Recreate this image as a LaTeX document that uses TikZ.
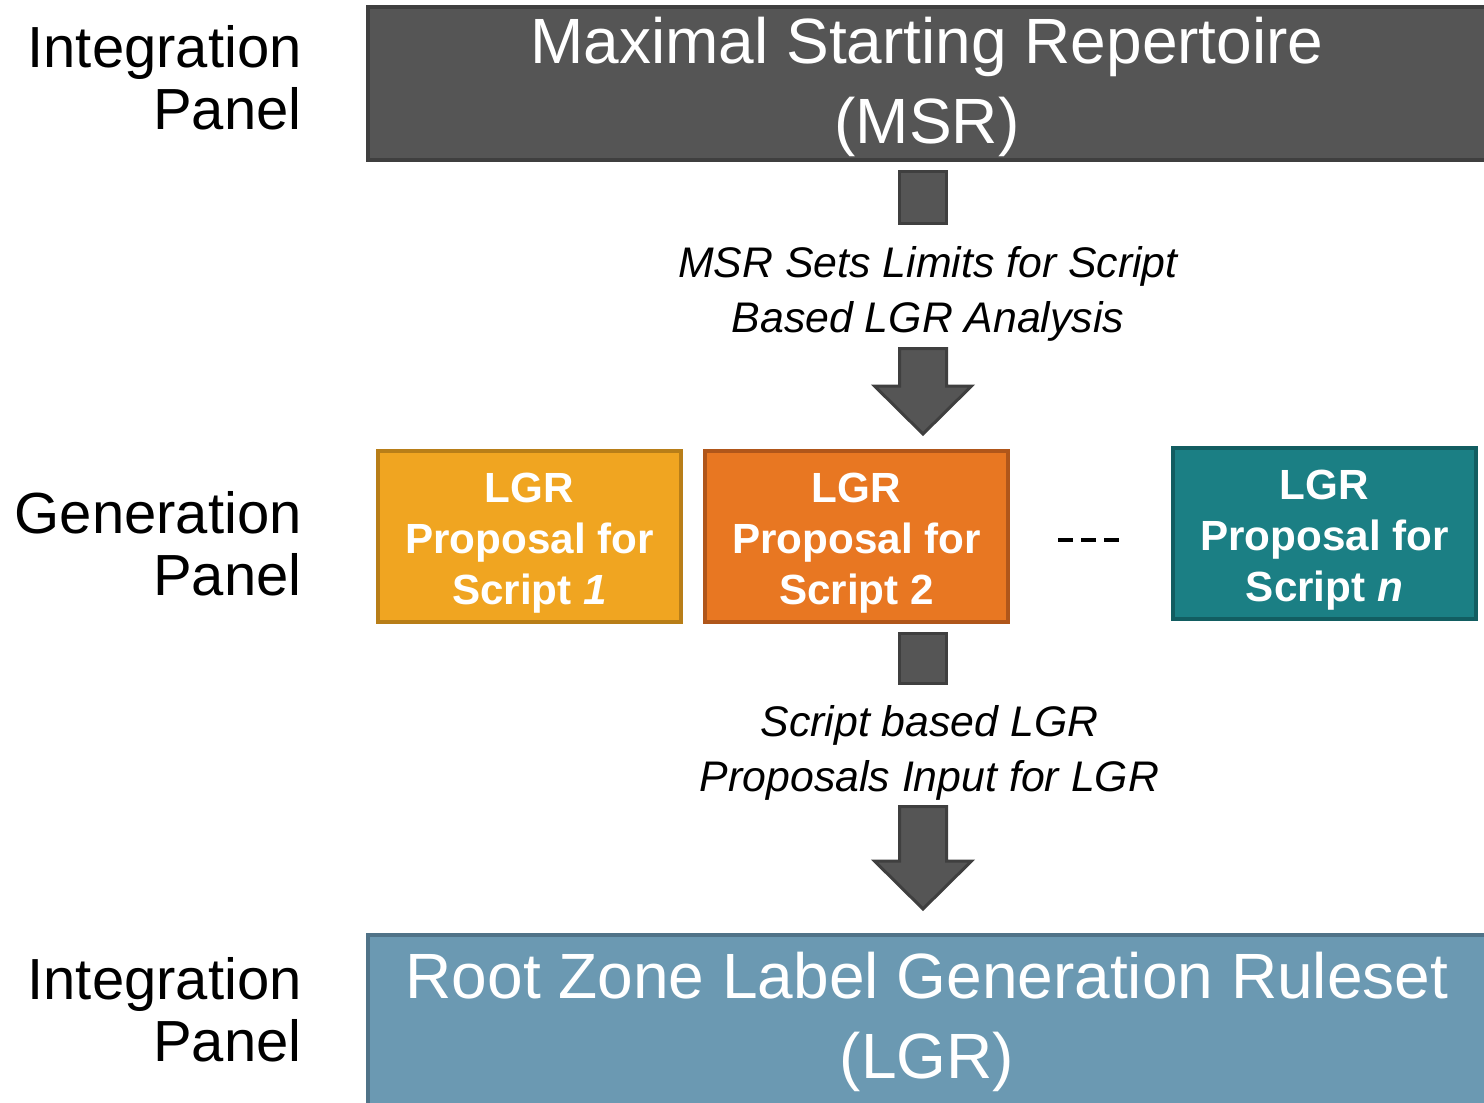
\documentclass[tikz,border=0pt]{standalone}
\usepackage{fontspec}
\setmainfont{Liberation Sans}
\definecolor{msr fill}{HTML}{555555}
\definecolor{msr border}{HTML}{3F3F3F}
\definecolor{lgr fill}{HTML}{6B99B2}
\definecolor{lgr border}{HTML}{507388}
\definecolor{script one fill}{HTML}{F0A521}
\definecolor{script one border}{HTML}{B87E18}
\definecolor{script two fill}{HTML}{E87722}
\definecolor{script two border}{HTML}{B0561A}
\definecolor{script n fill}{HTML}{1B7F84}
\definecolor{script n border}{HTML}{125D61}
\colorlet{block arrow fill}{msr fill}
\colorlet{block arrow border}{msr border}
\newcommand{\liftline}[1]{\rule{0pt}{#1}}
\tikzset{
    x={0.5pt},
    y={-0.5pt},
    panel label/.style={
        align=right,
        anchor=east,
        inner sep=0pt,
        font={\fontsize{29}{31}\selectfont},
    },
    integration box/.style 2 args={
        draw={#2}, fill={#1},
        line width={2pt},
        text=white,
        align=center,
        inner sep=0pt,
        minimum width={559pt},
        font={\fontsize{32}{40}\selectfont},
    },
    proposal box/.style 2 args={
        draw={#2}, fill={#1},
        line width={2pt},
        text=white,
        align=center,
        inner sep=0pt,
        minimum width={151.5pt},
        minimum height={85.5pt},
        font={\bfseries\fontsize{21.1}{25.5}\selectfont},
    },
    flow label/.style={
        align=center,
        inner sep=0pt,
        font={\itshape\fontsize{21.4}{27.5}\selectfont},
    },
    block arrow/.style={
        fill=block arrow fill,
        draw=block arrow border,
        line width={1.5pt},
        line join=miter,
    },
    ellipsis dashes/.style={
        draw=black,
        line width={2pt},
        dash pattern={on 7.5pt off 4pt},
    },
}

\begin{document}
\begin{tikzpicture}
\useasboundingbox (0,0) rectangle (1484,1103);
% panel labels
\node[panel label] (integration top) at (302,78) {Integration\\Panel};
\node[panel label] (generation) at (302,544) {Generation\\Panel};
\node[panel label] (integration bottom) at (302,1010) {Integration\\Panel};
% repertoire and ruleset
\node[integration box={msr fill}{msr border}, minimum height={76.5pt}] (msr) at (927,83.5) {\liftline{26.5pt}Maximal Starting Repertoire\\(MSR)};
\node[integration box={lgr fill}{lgr border}, minimum height={87pt}] (rzlgr) at (927,1022) {Root Zone Label Generation Ruleset\\(LGR)};
% script proposals
\node[proposal box={script one fill}{script one border}] (script 1) at (529.5,536.5) {\liftline{21pt}LGR\\Proposal for\\Script \textit{1}};
\node[proposal box={script two fill}{script two border}] (script 2) at (856.5,536.5) {\liftline{21pt}LGR\\Proposal for\\Script 2};
\node[proposal box={script n fill}{script n border}] (script n) at (1324.5,533.5) {\liftline{21pt}LGR\\Proposal for\\Script \textit{n}};
\draw[ellipsis dashes] (1058,540) -- (1120,540);
% flow labels
\node[flow label] (limits) at (928,294) {MSR Sets Limits for Script\\Based LGR Analysis};
\node[flow label] (inputs) at (929.5,753) {Script based LGR\\Proposals Input for LGR};
% block arrows
\path[block arrow] (899.5,171.5) rectangle (946.5,223.5);
\path[block arrow] (899.5,348.5) -- (946.5,348.5) -- (946.5,386) -- (971.5,386) -- (923,434) -- (874.5,386) -- (899.5,386) -- cycle;
\path[block arrow] (899.5,633.5) rectangle (946.5,683.5);
\path[block arrow] (899.5,806.5) -- (946.5,806.5) -- (946.5,861) -- (971.5,861) -- (923,909) -- (874.5,861) -- (899.5,861) -- cycle;
\end{tikzpicture}
\end{document}
